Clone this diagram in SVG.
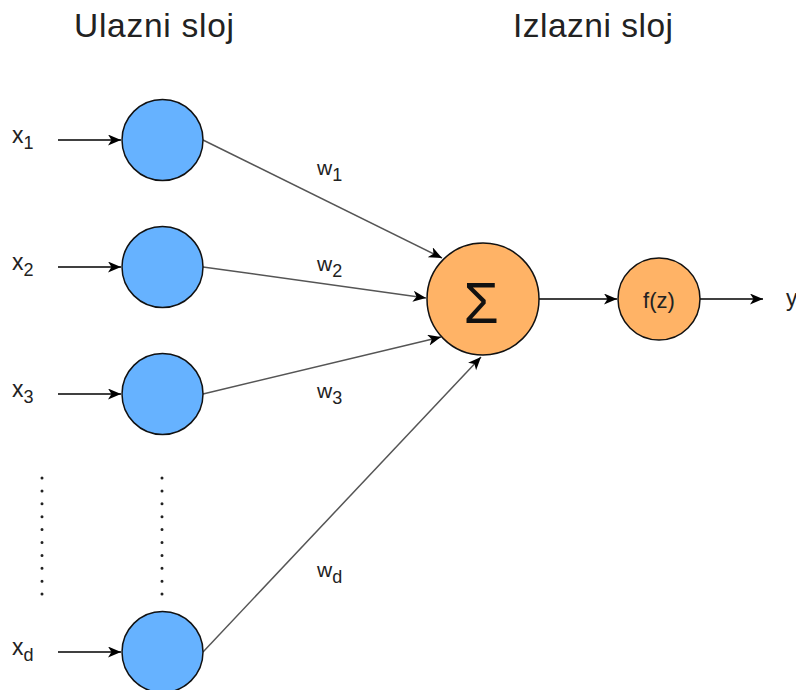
<svg xmlns="http://www.w3.org/2000/svg" width="796" height="690" viewBox="0 0 796 690">
<style>
text{font-family:"Liberation Sans",Arial,sans-serif;fill:#222}
.title{font-size:33.5px}
.lbl{font-size:23px}
.wl{font-size:21px}
.sub{font-size:18px}
.in{fill:#66b2ff;stroke:#111;stroke-width:1.5}
.out{fill:#ffb366;stroke:#111;stroke-width:1.5}
.arr{stroke:#000;stroke-width:1.5;fill:none}
.edge{stroke:#555;stroke-width:1.5;fill:none}
.dots{stroke:#222;stroke-width:3;stroke-linecap:round;stroke-dasharray:0 12.9;fill:none}
</style>
<defs>
<marker id="ah" markerUnits="userSpaceOnUse" markerWidth="15" markerHeight="12" refX="13" refY="5.5" orient="auto">
<path d="M0,0 L13,5.5 L0,11 L3.5,5.5 Z" fill="#000"/>
</marker>
</defs>
<rect width="796" height="690" fill="#fff"/>
<text class="title" x="74" y="37" textLength="160">Ulazni sloj</text>
<text class="title" x="513" y="37" textLength="160">Izlazni sloj</text>
<g id="connectors">
<line class="arr" x1="58" y1="140" x2="121" y2="140" marker-end="url(#ah)"/>
<line class="arr" x1="58" y1="267" x2="121" y2="267" marker-end="url(#ah)"/>
<line class="arr" x1="58" y1="394" x2="121" y2="394" marker-end="url(#ah)"/>
<line class="arr" x1="58" y1="652" x2="121" y2="652" marker-end="url(#ah)"/>
<line class="edge" x1="203" y1="140" x2="442" y2="258" marker-end="url(#ah)"/>
<line class="edge" x1="203" y1="267" x2="426" y2="298" marker-end="url(#ah)"/>
<line class="edge" x1="203" y1="394" x2="441" y2="337" marker-end="url(#ah)"/>
<line class="edge" x1="203" y1="652" x2="481" y2="357" marker-end="url(#ah)"/>
<line class="arr" x1="539" y1="299" x2="617" y2="299" marker-end="url(#ah)"/>
<line class="arr" x1="700" y1="299" x2="763" y2="299" marker-end="url(#ah)"/>
<path class="dots" d="M42,478 V595"/>
<path class="dots" d="M162,478 V595"/>
</g>
<g id="x1"><text class="lbl" x="12" y="143">x<tspan class="sub" dy="6">1</tspan></text></g>
<g id="x2"><text class="lbl" x="12" y="270">x<tspan class="sub" dy="6">2</tspan></text></g>
<g id="x3"><text class="lbl" x="12" y="397">x<tspan class="sub" dy="6">3</tspan></text></g>
<g id="xd"><text class="lbl" x="12" y="655">x<tspan class="sub" dy="6">d</tspan></text></g>
<g id="w1"><text class="wl" x="317" y="175">w<tspan class="sub" dy="6">1</tspan></text></g>
<g id="w2"><text class="wl" x="317" y="271">w<tspan class="sub" dy="6">2</tspan></text></g>
<g id="w3"><text class="wl" x="317" y="398">w<tspan class="sub" dy="6">3</tspan></text></g>
<g id="wd"><text class="wl" x="317" y="577">w<tspan class="sub" dy="6">d</tspan></text></g>
<g id="in1"><circle class="in" cx="162.5" cy="140" r="40.5"/></g>
<g id="in2"><circle class="in" cx="162.5" cy="267" r="40.5"/></g>
<g id="in3"><circle class="in" cx="162.5" cy="394" r="40.5"/></g>
<g id="ind"><circle class="in" cx="162.5" cy="652" r="40.5"/></g>
<g id="sum"><circle class="out" cx="483" cy="299" r="56"/><text x="481" y="323" font-size="57" text-anchor="middle" style="fill:#111">Σ</text></g>
<g id="act"><circle class="out" cx="659" cy="299" r="41"/><text x="659" y="308" font-size="22" text-anchor="middle">f(z)</text></g>
<g id="yout"><text class="lbl" x="786" y="306">y</text></g>
</svg>
